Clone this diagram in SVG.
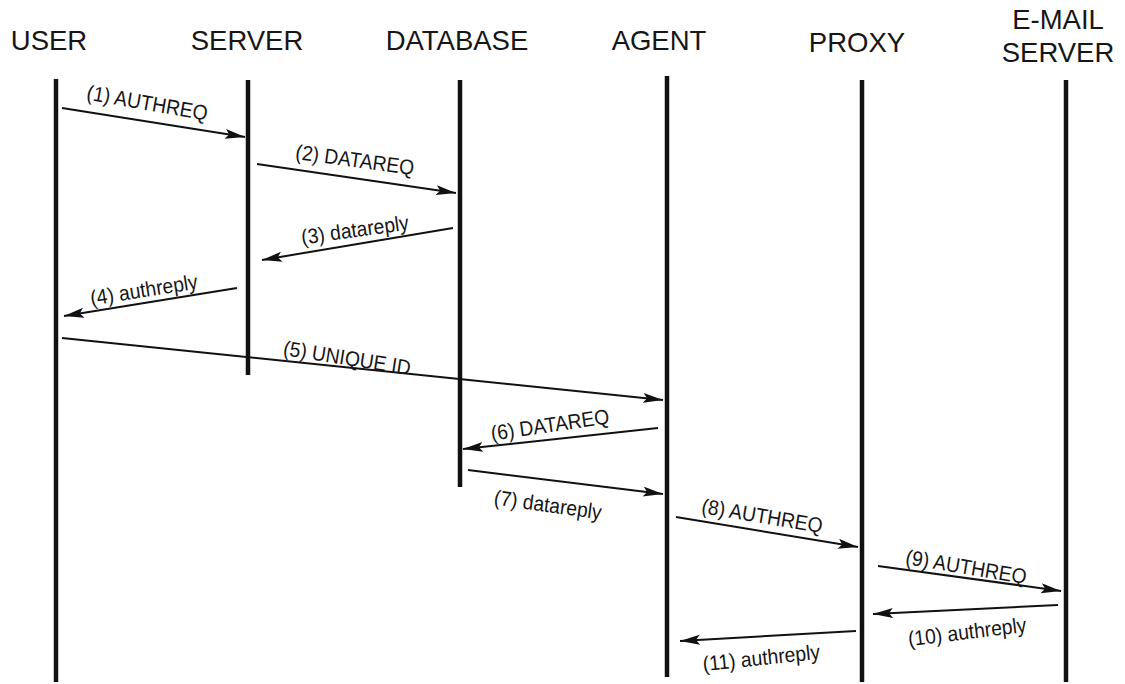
<svg xmlns="http://www.w3.org/2000/svg" width="1125" height="684" viewBox="0 0 1125 684">
  <style>
    .hdr { font-family: "Liberation Sans", Arial, sans-serif; font-size: 27.5px; fill: #161616; text-anchor: middle; }
    .life { stroke: #111; stroke-width: 4.5; fill: none; }
    .msg { stroke: #111; stroke-width: 2; fill: none; marker-end: url(#head); }
    .lbl { font-family: "Liberation Sans", Arial, sans-serif; font-size: 21px; fill: #161616; text-anchor: middle; }
  </style>
  <defs>
    <marker id="head" markerUnits="userSpaceOnUse" markerWidth="22" markerHeight="11" refX="20" refY="5" orient="auto">
      <path d="M0,0 L20,5 L0,10 L4,5 z" fill="#111"/>
    </marker>
  </defs>
  <rect width="1125" height="684" fill="#fff"/>

  <g id="user">
    <text class="hdr" x="49" y="50">USER</text>
    <line class="life" x1="56" y1="79" x2="56" y2="682"/>
  </g>
  <g id="server">
    <text class="hdr" x="247" y="50">SERVER</text>
    <line class="life" x1="248" y1="80" x2="248" y2="375"/>
  </g>
  <g id="database">
    <text class="hdr" x="457" y="50">DATABASE</text>
    <line class="life" x1="460" y1="80" x2="460" y2="487"/>
  </g>
  <g id="agent">
    <text class="hdr" x="659" y="50">AGENT</text>
    <line class="life" x1="667" y1="76" x2="667" y2="677"/>
  </g>
  <g id="proxy">
    <text class="hdr" x="857" y="52">PROXY</text>
    <line class="life" x1="862" y1="80" x2="862" y2="682"/>
  </g>
  <g id="email-server">
    <text class="hdr" x="1058" y="29">E-MAIL</text>
    <text class="hdr" x="1058" y="62">SERVER</text>
    <line class="life" x1="1066" y1="80" x2="1066" y2="682"/>
  </g>

  <g id="connectors">
    <line class="msg" x1="62" y1="108" x2="245" y2="137"/>
    <line class="msg" x1="257" y1="164" x2="456" y2="193"/>
    <line class="msg" x1="453" y1="228" x2="262" y2="260"/>
    <line class="msg" x1="237" y1="288" x2="64" y2="316"/>
    <line class="msg" x1="62" y1="338" x2="663" y2="400"/>
    <line class="msg" x1="658" y1="428" x2="463" y2="449"/>
    <line class="msg" x1="468" y1="470" x2="663" y2="494"/>
    <line class="msg" x1="676" y1="517" x2="858" y2="547"/>
    <line class="msg" x1="878" y1="566" x2="1061" y2="591"/>
    <line class="msg" x1="1058" y1="605" x2="873" y2="614"/>
    <line class="msg" x1="856" y1="631" x2="680" y2="641"/>

    <!-- labels: rotated along the message, slightly condensed -->
    <text class="lbl" transform="translate(146,110) rotate(10) scale(0.92,1)">(1) AUTHREQ</text>
    <text class="lbl" transform="translate(354,167) rotate(7.8) scale(0.92,1)">(2) DATAREQ</text>
    <text class="lbl" transform="translate(356,237) rotate(-8) scale(0.92,1)">(3) datareply</text>
    <text class="lbl" transform="translate(145,297) rotate(-9) scale(0.92,1)">(4) authreply</text>
    <text class="lbl" transform="translate(346,365) rotate(9) scale(0.92,1)">(5) UNIQUE ID</text>
    <text class="lbl" transform="translate(551,432) rotate(-8.4) scale(0.92,1)">(6) DATAREQ</text>
    <text class="lbl" transform="translate(547,512) rotate(8) scale(0.92,1)">(7) datareply</text>
    <text class="lbl" transform="translate(761,523) rotate(9.5) scale(0.92,1)">(8) AUTHREQ</text>
    <text class="lbl" transform="translate(965,574) rotate(9.5) scale(0.92,1)">(9) AUTHREQ</text>
    <text class="lbl" transform="translate(968,639) rotate(-7) scale(0.92,1)">(10) authreply</text>
    <text class="lbl" transform="translate(762,665) rotate(-6) scale(0.92,1)">(11) authreply</text>
  </g>
</svg>
